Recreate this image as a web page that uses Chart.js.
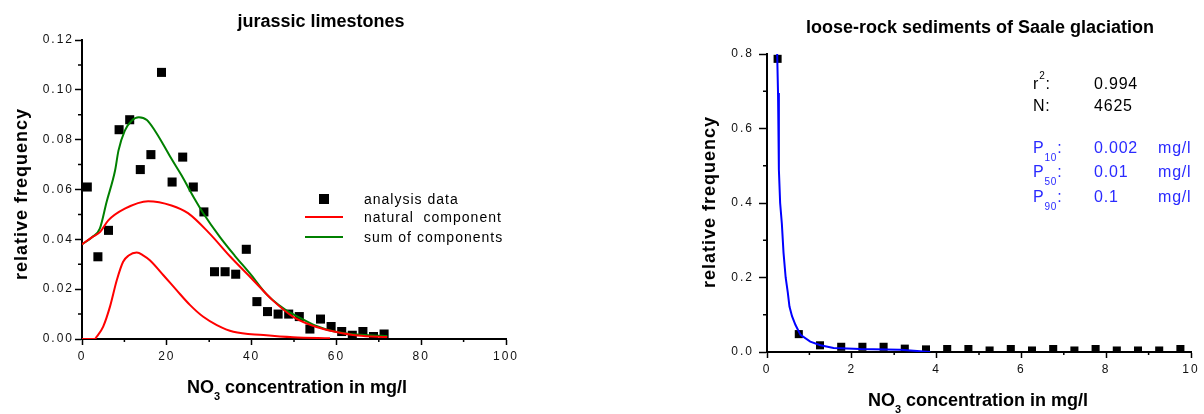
<!DOCTYPE html>
<html>
<head>
<meta charset="utf-8">
<script src="https://cdn.jsdelivr.net/npm/chart.js@4.4.1/dist/chart.umd.min.js"></script>
<style>
    html, body { margin: 0; padding: 0; background: #fff; }
    body { width: 1204px; height: 414px; position: relative; overflow: hidden; }
    canvas { position: absolute; top: 0; }
    #jurassic { left: 0; }
    #saale { left: 690px; }
</style>
</head>
<body>
<canvas id="jurassic" width="620" height="414"></canvas>
<canvas id="saale" width="514" height="414"></canvas>
<script>
const FONT = "'Liberation Sans', Arial, sans-serif";

// jurassic limestones - analysis data (class midpoints, mg/l)
const jurX = [1.25, 3.75, 6.25, 8.75, 11.25, 13.75, 16.25, 18.75, 21.25, 23.75,
              26.25, 28.75, 31.25, 33.75, 36.25, 38.75, 41.25, 43.75, 46.25, 48.75,
              51.25, 53.75, 56.25, 58.75, 61.25, 63.75, 66.25, 68.75, 71.25];
const jurY = [0.061, 0.033, 0.0436, 0.084, 0.088, 0.068, 0.074, 0.107, 0.063, 0.073,
              0.061, 0.051, 0.027, 0.027, 0.026, 0.036, 0.015, 0.011, 0.010, 0.010,
              0.009, 0.004, 0.008, 0.005, 0.003, 0.0015, 0.003, 0.001, 0.002];

// broad red curve (natural component)
const naturalX = [0, 2.5, 4.3, 6.2, 10.1, 15.6, 21.1, 25, 30, 35, 40, 45, 49.8, 55.3, 60, 65, 72];
const naturalY = [0.038, 0.041, 0.043, 0.0476, 0.0523, 0.0553, 0.0536, 0.0505, 0.0425,
                  0.033, 0.0243, 0.0155, 0.0089, 0.0048, 0.0028, 0.0014, 0.0008];

// narrow red curve (second component)
const secondX = [0, 3, 3.5, 5, 6.6, 8.2, 9.7, 11, 12.9, 14.5, 16, 19.2, 22.3, 25.5, 28.6, 31.8, 35.7, 42.8, 49.8, 58.5];
const secondY = [0, 0, 0.001, 0.005, 0.013, 0.0236, 0.031, 0.0335, 0.0347, 0.0335, 0.0316,
                 0.0256, 0.0196, 0.0136, 0.0089, 0.0056, 0.0029, 0.0016, 0.0007, 0.0003];

// green curve (sum of components)
const sumX = [0, 2.5, 4.2, 5.8, 7.8, 8.6, 10.1, 11.7, 13.4, 15.3, 17.2, 19.2, 21.1, 23.5,
              26.3, 28.6, 32.5, 36, 39.6, 43.5, 47.5, 51.4, 55.3, 59, 63.2, 67.5, 72];
const sumY = [0.038, 0.041, 0.0443, 0.055, 0.0676, 0.0756, 0.0836, 0.0876, 0.089, 0.0879,
              0.0836, 0.078, 0.0723, 0.0656, 0.057, 0.0505, 0.041, 0.0335, 0.0263, 0.018,
              0.0123, 0.0085, 0.0052, 0.0032, 0.002, 0.0015, 0.0012];

const jurXTicks = [0, 20, 40, 60, 80, 100];
const jurXMinor = [10, 30, 50, 70, 90];
const jurYTicks = [0, 0.02, 0.04, 0.06, 0.08, 0.10, 0.12];
const jurYMinor = [0.01, 0.03, 0.05, 0.07, 0.09, 0.11];

// loose-rock sediments of Saale glaciation
const saaleX = [0.25, 0.75, 1.25, 1.75, 2.25, 2.75, 3.25, 3.75, 4.25, 4.75,
                5.25, 5.75, 6.25, 6.75, 7.25, 7.75, 8.25, 8.75, 9.25, 9.75];
const saaleY = [0.787, 0.048, 0.018, 0.014, 0.014, 0.014, 0.009, 0.007, 0.008, 0.008,
                0.004, 0.008, 0.004, 0.008, 0.004, 0.008, 0.004, 0.004, 0.004, 0.008];

const fitX = [0.24, 0.26, 0.28, 0.31, 0.35, 0.39, 0.44, 0.49, 0.53, 0.59, 0.67, 0.79,
              1.02, 1.26, 1.57, 2.2, 3.14, 3.54, 3.85];
const fitY = [0.80, 0.695, 0.49, 0.40, 0.345, 0.266, 0.20, 0.16, 0.122, 0.096, 0.073, 0.046,
              0.028, 0.018, 0.011, 0.008, 0.006, 0.003, 0.0];

const saaleXTicks = [0, 2, 4, 6, 8, 10];
const saaleXMinor = [1, 3, 5, 7, 9];
const saaleYTicks = [0, 0.2, 0.4, 0.6, 0.8];
const saaleYMinor = [0.1, 0.3, 0.5, 0.7];

const pts = (xs, ys) => xs.map((x, i) => ({ x, y: ys[i] }));

// draws text made of several pieces (for sub/superscripts)
function drawRich(ctx, it) {
    ctx.save();
    ctx.translate(it.x, it.y);
    if (it.rot) ctx.rotate(it.rot);
    ctx.fillStyle = it.color || '#000';
    ctx.letterSpacing = (it.spacing || 0) + 'px';
    ctx.textBaseline = 'alphabetic';
    ctx.textAlign = 'left';
    const fontOf = p => (p.bold ? 'bold ' : '') + p.size + 'px ' + FONT;
    let total = 0;
    it.parts.forEach(p => { ctx.font = fontOf(p); p.w = ctx.measureText(p.t).width; total += p.w; });
    let cx = it.align === 'center' ? -total / 2 : 0;
    it.parts.forEach(p => {
        ctx.font = fontOf(p);
        ctx.fillText(p.t, cx, p.dy || 0);
        cx += p.w;
    });
    ctx.restore();
}

const spacing = {
    id: 'spacing',
    beforeDraw(chart) { chart.ctx.letterSpacing = '2px'; },
    afterDraw(chart) { chart.ctx.letterSpacing = '0px'; }
};

const minorTicks = {
    id: 'minorTicks',
    afterDraw(chart, args, opts) {
        const ctx = chart.ctx, a = chart.chartArea;
        const xs = chart.scales.x, ys = chart.scales.y;
        ctx.save();
        ctx.strokeStyle = '#000';
        ctx.lineWidth = 1.5;
        ctx.beginPath();
        opts.x.forEach(v => { const p = xs.getPixelForValue(v); ctx.moveTo(p, a.bottom); ctx.lineTo(p, a.bottom + 3); });
        opts.y.forEach(v => { const p = ys.getPixelForValue(v); ctx.moveTo(a.left, p); ctx.lineTo(a.left - 4, p); });
        ctx.stroke();
        ctx.restore();
    }
};

const texts = {
    id: 'texts',
    afterDraw(chart, args, opts) {
        const ctx = chart.ctx;
        opts.items.forEach(it => drawRich(ctx, it));
        // legend from the datasets
        const lg = opts.legend;
        if (lg) {
            let row = 0;
            chart.data.datasets.forEach(ds => {
                if (!ds.legendKind) return;
                const y = lg.y[row++];
                ctx.save();
                if (ds.legendKind === 'marker') {
                    ctx.fillStyle = ds.backgroundColor;
                    ctx.fillRect(lg.markX - 5, y - 5, 10, 10);
                } else {
                    ctx.strokeStyle = ds.borderColor;
                    ctx.lineWidth = 2;
                    ctx.beginPath();
                    ctx.moveTo(lg.lineX0, y);
                    ctx.lineTo(lg.lineX1, y);
                    ctx.stroke();
                }
                ctx.restore();
                drawRich(ctx, { x: lg.textX, y: y + 5, spacing: 1, parts: [{ t: ds.label, size: 14 }] });
            });
        }
        ctx.letterSpacing = '0px';
    }
};

function axis(ticks, fmt, position, size, tickLength, pad) {
    return {
        type: 'linear',
        position,
        min: ticks[0],
        max: ticks[ticks.length - 1],
        afterBuildTicks: s => { s.ticks = ticks.map(v => ({ value: v })); },
        afterFit: s => { if (position === 'left') s.width = size; else s.height = size; },
        border: { display: true, color: '#000', width: 2 },
        grid: { display: true, drawOnChartArea: false, drawTicks: true, tickLength, tickColor: '#000', tickWidth: 1.5 },
        ticks: {
            color: '#111',
            autoSkip: false,
            maxRotation: 0,
            font: { family: FONT, size: 12 },
            padding: pad,
            callback: fmt
        }
    };
}

function xTitle(cx, y) {
    return {
        x: cx, y, align: 'center',
        parts: [
            { t: 'NO', size: 18, bold: true },
            { t: '3', size: 11, bold: true, dy: 7 },
            { t: ' concentration in mg/l', size: 18, bold: true }
        ]
    };
}
function yTitle(x, cy) {
    return { x, y: cy, rot: -Math.PI / 2, align: 'center', spacing: 1, parts: [{ t: 'relative frequency', size: 18, bold: true }] };
}

function buildChart(id, o) {
    return new Chart(document.getElementById(id), {
        type: 'scatter',
        data: { datasets: o.datasets },
        options: {
            responsive: false,
            animation: false,
            events: [],
            layout: { padding: o.padding },
            plugins: {
                legend: { display: false },
                tooltip: { enabled: false },
                minorTicks: { x: o.minorX, y: o.minorY },
                texts: { items: o.texts, legend: o.legend }
            },
            scales: {
                x: axis(o.xTicks, v => String(v), 'bottom', o.xHeight, o.xTick[0], o.xTick[1]),
                y: axis(o.yTicks, o.yFmt, 'left', o.yWidth, o.yTick[0], o.yTick[1])
            }
        },
        plugins: [spacing, minorTicks, texts]
    });
}

const curve = (label, xs, ys, color, legendKind) => ({
    label, data: pts(xs, ys), showLine: true, borderColor: color, backgroundColor: color,
    borderWidth: 2, pointRadius: 0, cubicInterpolationMode: 'monotone', order: 1, legendKind
});

buildChart('jurassic', {
    padding: { left: 0, top: 40, right: 114, bottom: 0 },
    yWidth: 82, xHeight: 75,
    xTick: [6, 4], yTick: [7, 1],
    xTicks: jurXTicks, yTicks: jurYTicks, minorX: jurXMinor, minorY: jurYMinor,
    yFmt: v => v.toFixed(2),
    datasets: [
        {
            label: 'analysis data', data: pts(jurX, jurY), pointStyle: 'rect', pointRadius: 6.4,
            backgroundColor: '#000', borderColor: '#000', borderWidth: 0, order: 10,
            clip: { left: 10, top: 10, right: 10, bottom: 0 }, legendKind: 'marker'
        },
        curve('natural  component', naturalX, naturalY, '#ff0000', 'line'),
        curve('second component', secondX, secondY, '#ff0000', null),
        curve('sum of components', sumX, sumY, '#008000', 'line')
    ],
    legend: { y: [199, 217, 237], markX: 324, lineX0: 305, lineX1: 343, textX: 364 },
    texts: [
        { x: 321, y: 27, align: 'center', parts: [{ t: 'jurassic limestones', size: 18, bold: true }] },
        xTitle(297, 393),
        yTitle(27, 194)
    ]
});

const BLUE = '#2a2aff';
const annot = (label, sub, supFlag, value, unit, y, color) => {
    const labelParts = [{ t: label, size: 16 }];
    if (sub) labelParts.push({ t: sub, size: 10, dy: supFlag ? -10 : 8 });
    labelParts.push({ t: ':', size: 16 });
    const out = [
        { x: 343, y, color, spacing: 0.8, parts: labelParts },
        { x: 404, y, color, spacing: 0.8, parts: [{ t: value, size: 16 }] }
    ];
    if (unit) out.push({ x: 468, y, color, spacing: 0.8, parts: [{ t: unit, size: 16 }] });
    return out;
};

buildChart('saale', {
    padding: { left: 0, top: 54, right: 13, bottom: 0 },
    yWidth: 77, xHeight: 62,
    xTick: [6, 4], yTick: [8, 5],
    xTicks: saaleXTicks, yTicks: saaleYTicks, minorX: saaleXMinor, minorY: saaleYMinor,
    yFmt: v => v.toFixed(1),
    datasets: [
        {
            label: 'analysis data', data: pts(saaleX, saaleY), pointStyle: 'rect', pointRadius: 5.7,
            backgroundColor: '#000', borderColor: '#000', borderWidth: 0, order: 10,
            clip: { left: 10, top: 10, right: 10, bottom: 0 }
        },
        {
            label: 'fit', data: pts(fitX, fitY), showLine: true, borderColor: '#0000ff',
            borderWidth: 2, pointRadius: 0, order: 1
        }
    ],
    texts: [
        { x: 290, y: 33, align: 'center', parts: [{ t: 'loose-rock sediments of Saale glaciation', size: 18, bold: true }] },
        xTitle(288, 406),
        yTitle(25, 202),
        ...annot('r', '2', true, '0.994', null, 89, '#000'),
        ...annot('N', null, false, '4625', null, 110.7, '#000'),
        ...annot('P', '10', false, '0.002', 'mg/l', 153, BLUE),
        ...annot('P', '50', false, '0.01', 'mg/l', 176.7, BLUE),
        ...annot('P', '90', false, '0.1', 'mg/l', 201.7, BLUE)
    ]
});
</script>
</body>
</html>
